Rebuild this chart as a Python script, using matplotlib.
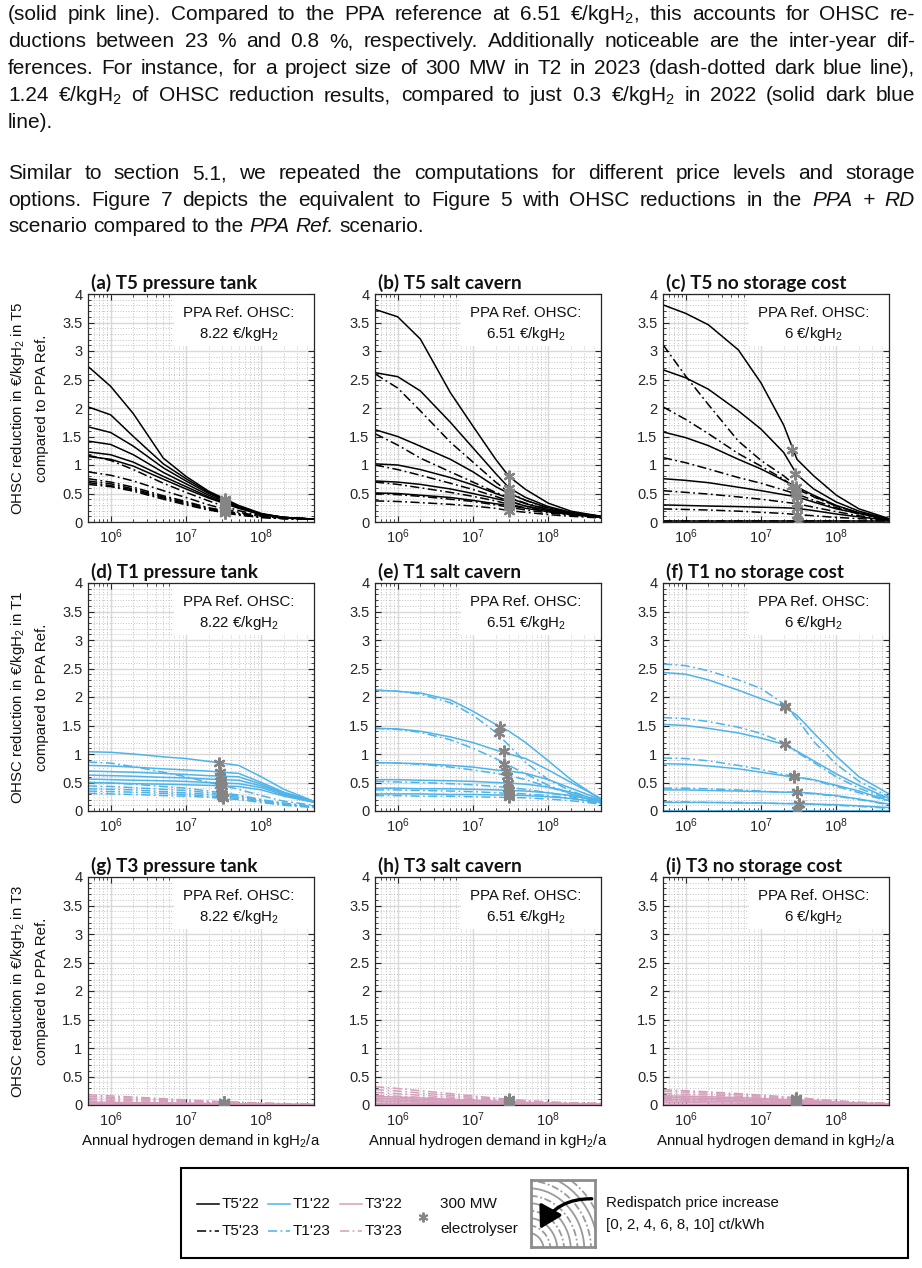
import numpy as np
import matplotlib
matplotlib.use("Agg")
import matplotlib.pyplot as plt
from matplotlib.ticker import LogLocator, MultipleLocator, FuncFormatter, NullFormatter
from matplotlib.patches import Rectangle, FancyArrowPatch
from matplotlib.lines import Line2D

plt.rcParams['font.family'] = ['Liberation Sans', 'DejaVu Sans']
plt.rcParams['mathtext.fontset'] = 'custom'
plt.rcParams['mathtext.rm'] = 'Liberation Sans'
plt.rcParams['mathtext.it'] = 'Liberation Sans:italic'
plt.rcParams['mathtext.bf'] = 'Liberation Sans:bold'

# ---------------- data ----------------
X_DEMAND = [5e5, 1e6, 2e6, 5e6, 1e7, 2e7, 3e7, 5e7, 1e8, 2e8, 5e8]
REDISPATCH_CT = [0, 2, 4, 6, 8, 10]

A_22 = [[2.73, 2.38, 1.90, 1.12, 0.80, 0.54, 0.43, 0.29, 0.15, 0.08, 0.05],
        [2.02, 1.88, 1.50, 1.02, 0.76, 0.52, 0.41, 0.28, 0.14, 0.08, 0.05],
        [1.67, 1.57, 1.33, 0.95, 0.72, 0.50, 0.40, 0.27, 0.14, 0.08, 0.05],
        [1.42, 1.36, 1.18, 0.87, 0.67, 0.47, 0.38, 0.26, 0.13, 0.08, 0.05],
        [1.23, 1.18, 1.05, 0.80, 0.62, 0.44, 0.36, 0.25, 0.13, 0.08, 0.05],
        [1.15, 1.10, 0.98, 0.75, 0.58, 0.42, 0.34, 0.24, 0.13, 0.08, 0.05]]
A_23 = [[1.17, 1.08, 0.92, 0.68, 0.52, 0.37, 0.29, 0.20, 0.11, 0.07, 0.05],
        [0.88, 0.82, 0.72, 0.55, 0.43, 0.30, 0.24, 0.17, 0.10, 0.07, 0.05],
        [0.76, 0.70, 0.61, 0.46, 0.36, 0.25, 0.21, 0.15, 0.09, 0.06, 0.05],
        [0.72, 0.67, 0.58, 0.44, 0.34, 0.24, 0.19, 0.14, 0.09, 0.06, 0.05],
        [0.69, 0.64, 0.56, 0.42, 0.32, 0.22, 0.18, 0.13, 0.08, 0.06, 0.05],
        [0.66, 0.62, 0.54, 0.40, 0.30, 0.21, 0.17, 0.12, 0.08, 0.06, 0.05]]
A_STAR_X = [3.3e7] * 12
A_STAR_Y = [0.41, 0.39, 0.37, 0.36, 0.34, 0.32, 0.27, 0.22, 0.19, 0.18, 0.16, 0.15]

B_22 = [[3.73, 3.60, 3.21, 2.27, 1.68, 1.10, 0.80, 0.57, 0.33, 0.19, 0.10],
        [2.62, 2.55, 2.30, 1.75, 1.30, 0.85, 0.60, 0.43, 0.27, 0.17, 0.10],
        [1.62, 1.50, 1.33, 1.10, 0.88, 0.62, 0.50, 0.38, 0.25, 0.16, 0.10],
        [1.02, 1.00, 0.92, 0.78, 0.65, 0.50, 0.42, 0.32, 0.22, 0.15, 0.09],
        [0.72, 0.70, 0.66, 0.58, 0.50, 0.41, 0.36, 0.28, 0.20, 0.14, 0.09],
        [0.51, 0.50, 0.47, 0.43, 0.38, 0.32, 0.29, 0.24, 0.18, 0.13, 0.08]]
B_23 = [[2.60, 2.35, 1.95, 1.40, 1.05, 0.70, 0.52, 0.38, 0.24, 0.15, 0.09],
        [1.55, 1.35, 1.12, 0.88, 0.70, 0.52, 0.43, 0.33, 0.22, 0.14, 0.09],
        [1.00, 0.92, 0.82, 0.68, 0.57, 0.45, 0.37, 0.28, 0.20, 0.14, 0.09],
        [0.70, 0.66, 0.60, 0.52, 0.45, 0.37, 0.31, 0.25, 0.18, 0.13, 0.08],
        [0.50, 0.48, 0.45, 0.40, 0.36, 0.30, 0.26, 0.21, 0.16, 0.12, 0.08],
        [0.37, 0.36, 0.34, 0.31, 0.28, 0.24, 0.20, 0.17, 0.13, 0.10, 0.07]]
B_STAR_X = [3.0e7] * 12
B_STAR_Y = [0.80, 0.60, 0.50, 0.42, 0.36, 0.29, 0.52, 0.43, 0.37, 0.31, 0.26, 0.20]

C_22 = [[3.81, 3.66, 3.46, 3.02, 2.44, 1.70, 1.10, 0.81, 0.47, 0.23, 0.06],
        [2.67, 2.53, 2.33, 1.95, 1.63, 1.22, 0.83, 0.58, 0.35, 0.19, 0.05],
        [1.58, 1.48, 1.34, 1.10, 0.93, 0.73, 0.61, 0.47, 0.29, 0.16, 0.05],
        [0.76, 0.73, 0.69, 0.61, 0.55, 0.48, 0.44, 0.35, 0.23, 0.15, 0.04],
        [0.30, 0.29, 0.28, 0.27, 0.26, 0.25, 0.24, 0.20, 0.14, 0.09, 0.03],
        [0.02, 0.02, 0.02, 0.02, 0.02, 0.02, 0.02, 0.02, 0.02, 0.02, 0.02]]
C_23 = [[3.11, 2.56, 2.06, 1.42, 1.08, 0.81, 0.62, 0.44, 0.28, 0.16, 0.05],
        [2.02, 1.80, 1.55, 1.20, 0.98, 0.75, 0.57, 0.45, 0.28, 0.16, 0.05],
        [1.13, 1.04, 0.93, 0.78, 0.68, 0.56, 0.49, 0.38, 0.25, 0.14, 0.05],
        [0.55, 0.52, 0.49, 0.44, 0.40, 0.35, 0.32, 0.26, 0.18, 0.11, 0.04],
        [0.23, 0.22, 0.21, 0.19, 0.17, 0.15, 0.13, 0.11, 0.08, 0.06, 0.03],
        [0.01, 0.01, 0.01, 0.01, 0.01, 0.01, 0.01, 0.01, 0.01, 0.01, 0.01]]
C_STAR_X = [2.6e7, 2.8e7, 2.9e7, 3.0e7, 3.0e7, 3.1e7, 2.6e7, 2.8e7, 2.9e7, 3.0e7, 3.0e7, 3.1e7]
C_STAR_Y = [1.26, 0.85, 0.62, 0.44, 0.24, 0.02, 0.64, 0.55, 0.49, 0.32, 0.13, 0.01]

D_22 = [[1.04, 1.03, 1.00, 0.95, 0.92, 0.87, 0.84, 0.80, 0.60, 0.38, 0.17],
        [0.80, 0.79, 0.77, 0.74, 0.72, 0.70, 0.68, 0.66, 0.50, 0.33, 0.17],
        [0.70, 0.69, 0.68, 0.66, 0.64, 0.62, 0.61, 0.60, 0.47, 0.31, 0.17],
        [0.63, 0.62, 0.61, 0.59, 0.58, 0.56, 0.55, 0.54, 0.44, 0.30, 0.16],
        [0.56, 0.55, 0.54, 0.53, 0.52, 0.50, 0.49, 0.48, 0.41, 0.28, 0.16],
        [0.50, 0.49, 0.48, 0.47, 0.46, 0.45, 0.44, 0.43, 0.37, 0.26, 0.15]]
D_23 = [[0.86, 0.84, 0.78, 0.68, 0.60, 0.50, 0.45, 0.38, 0.27, 0.17, 0.10],
        [0.50, 0.49, 0.47, 0.43, 0.40, 0.35, 0.32, 0.28, 0.20, 0.14, 0.08],
        [0.44, 0.43, 0.41, 0.38, 0.36, 0.32, 0.30, 0.26, 0.19, 0.13, 0.08],
        [0.39, 0.38, 0.37, 0.34, 0.32, 0.29, 0.27, 0.24, 0.18, 0.12, 0.07],
        [0.35, 0.34, 0.33, 0.31, 0.29, 0.26, 0.24, 0.22, 0.16, 0.11, 0.07],
        [0.31, 0.30, 0.29, 0.27, 0.26, 0.24, 0.22, 0.20, 0.15, 0.10, 0.06]]
D_STAR_X = [2.7e7, 2.8e7, 2.8e7, 2.9e7, 2.9e7, 3.0e7, 2.8e7, 2.9e7, 3.0e7, 3.0e7, 3.1e7, 3.1e7]
D_STAR_Y = [0.84, 0.68, 0.61, 0.55, 0.49, 0.44, 0.46, 0.32, 0.30, 0.27, 0.24, 0.22]

E_22 = [[2.12, 2.10, 2.07, 1.95, 1.75, 1.52, 1.40, 1.20, 0.88, 0.55, 0.20],
        [1.45, 1.44, 1.40, 1.30, 1.20, 1.07, 1.00, 0.92, 0.72, 0.50, 0.22],
        [0.85, 0.84, 0.83, 0.80, 0.77, 0.72, 0.70, 0.66, 0.55, 0.40, 0.20],
        [0.55, 0.55, 0.54, 0.53, 0.52, 0.50, 0.49, 0.47, 0.42, 0.33, 0.18],
        [0.40, 0.40, 0.39, 0.39, 0.38, 0.37, 0.36, 0.35, 0.32, 0.27, 0.17],
        [0.30, 0.30, 0.30, 0.29, 0.29, 0.28, 0.28, 0.27, 0.25, 0.22, 0.15]]
E_23 = [[2.12, 2.10, 2.05, 1.90, 1.68, 1.38, 1.15, 0.85, 0.55, 0.35, 0.17],
        [1.45, 1.43, 1.38, 1.25, 1.10, 0.92, 0.80, 0.65, 0.45, 0.30, 0.16],
        [0.85, 0.84, 0.82, 0.77, 0.72, 0.66, 0.62, 0.55, 0.42, 0.30, 0.15],
        [0.52, 0.51, 0.50, 0.48, 0.46, 0.43, 0.41, 0.38, 0.32, 0.25, 0.14],
        [0.37, 0.37, 0.36, 0.35, 0.34, 0.32, 0.31, 0.30, 0.27, 0.22, 0.13],
        [0.27, 0.27, 0.26, 0.26, 0.25, 0.24, 0.24, 0.23, 0.21, 0.18, 0.12]]
E_STAR_X = [2.3e7, 2.6e7, 2.7e7, 2.9e7, 3.0e7, 3.0e7, 2.2e7, 2.6e7, 2.8e7, 2.9e7, 3.0e7, 3.0e7]
E_STAR_Y = [1.48, 1.05, 0.70, 0.49, 0.36, 0.28, 1.37, 0.83, 0.62, 0.41, 0.31, 0.24]

F_22 = [[2.43, 2.40, 2.30, 2.12, 1.97, 1.83, 1.68, 1.37, 0.96, 0.60, 0.30],
        [1.52, 1.50, 1.45, 1.37, 1.28, 1.17, 1.05, 0.88, 0.65, 0.45, 0.22],
        [0.83, 0.82, 0.79, 0.74, 0.68, 0.62, 0.59, 0.55, 0.45, 0.35, 0.18],
        [0.37, 0.37, 0.36, 0.35, 0.34, 0.33, 0.33, 0.31, 0.27, 0.21, 0.12],
        [0.15, 0.15, 0.15, 0.14, 0.14, 0.13, 0.13, 0.12, 0.11, 0.09, 0.06],
        [0.005, 0.005, 0.005, 0.005, 0.005, 0.005, 0.005, 0.005, 0.005, 0.005, 0.005]]
F_23 = [[2.58, 2.55, 2.46, 2.30, 2.15, 1.88, 1.62, 1.22, 0.82, 0.52, 0.25],
        [1.64, 1.62, 1.57, 1.47, 1.36, 1.20, 1.03, 0.85, 0.60, 0.40, 0.20],
        [0.93, 0.92, 0.88, 0.80, 0.73, 0.64, 0.60, 0.54, 0.43, 0.32, 0.17],
        [0.40, 0.40, 0.39, 0.37, 0.35, 0.33, 0.33, 0.30, 0.26, 0.20, 0.11],
        [0.16, 0.16, 0.15, 0.15, 0.14, 0.13, 0.13, 0.12, 0.10, 0.08, 0.05],
        [0.005, 0.005, 0.005, 0.005, 0.005, 0.005, 0.005, 0.005, 0.005, 0.005, 0.005]]
F_STAR_X = [2.1e7, 2.1e7, 2.7e7, 3.0e7, 3.2e7, 3.0e7, 2.1e7, 2.1e7, 2.7e7, 3.0e7, 3.2e7, 3.0e7]
F_STAR_Y = [1.83, 1.17, 0.60, 0.33, 0.13, 0.01, 1.85, 1.18, 0.61, 0.33, 0.13, 0.01]

G_22 = [[0.050, 0.047, 0.043, 0.037, 0.032, 0.027, 0.025, 0.021, 0.016, 0.012, 0.008],
        [0.040, 0.037, 0.034, 0.030, 0.026, 0.022, 0.020, 0.017, 0.013, 0.010, 0.007],
        [0.030, 0.028, 0.026, 0.023, 0.020, 0.017, 0.015, 0.013, 0.010, 0.008, 0.006],
        [0.020, 0.019, 0.018, 0.016, 0.014, 0.012, 0.011, 0.010, 0.008, 0.006, 0.005],
        [0.010, 0.010, 0.009, 0.008, 0.007, 0.006, 0.006, 0.005, 0.004, 0.004, 0.003],
        [0.002, 0.002, 0.002, 0.002, 0.002, 0.002, 0.002, 0.002, 0.002, 0.002, 0.002]]
G_23 = [[0.18, 0.16, 0.14, 0.11, 0.09, 0.07, 0.06, 0.05, 0.035, 0.025, 0.015],
        [0.15, 0.135, 0.12, 0.095, 0.08, 0.062, 0.053, 0.045, 0.032, 0.022, 0.013],
        [0.12, 0.11, 0.097, 0.08, 0.066, 0.052, 0.045, 0.038, 0.027, 0.019, 0.011],
        [0.09, 0.082, 0.074, 0.061, 0.051, 0.041, 0.036, 0.030, 0.022, 0.015, 0.009],
        [0.06, 0.055, 0.050, 0.042, 0.035, 0.028, 0.025, 0.021, 0.015, 0.011, 0.007],
        [0.03, 0.028, 0.025, 0.021, 0.018, 0.015, 0.013, 0.011, 0.008, 0.006, 0.004]]
G_STAR_X = [3.2e7] * 12
G_STAR_Y = [0.025, 0.020, 0.015, 0.011, 0.006, 0.002, 0.060, 0.053, 0.045, 0.036, 0.025, 0.013]

H_22 = [[0.15, 0.14, 0.125, 0.10, 0.085, 0.068, 0.060, 0.048, 0.034, 0.025, 0.018],
        [0.12, 0.113, 0.10, 0.082, 0.07, 0.056, 0.050, 0.040, 0.029, 0.021, 0.015],
        [0.09, 0.085, 0.076, 0.063, 0.054, 0.044, 0.040, 0.032, 0.023, 0.017, 0.012],
        [0.06, 0.057, 0.051, 0.043, 0.037, 0.030, 0.027, 0.022, 0.016, 0.012, 0.009],
        [0.03, 0.029, 0.026, 0.022, 0.019, 0.016, 0.014, 0.012, 0.009, 0.007, 0.005],
        [0.005, 0.005, 0.005, 0.004, 0.004, 0.004, 0.004, 0.003, 0.003, 0.003, 0.002]]
H_23 = [[0.32, 0.29, 0.25, 0.20, 0.16, 0.12, 0.10, 0.08, 0.055, 0.04, 0.03],
        [0.27, 0.245, 0.21, 0.17, 0.135, 0.10, 0.085, 0.07, 0.048, 0.035, 0.025],
        [0.22, 0.20, 0.17, 0.14, 0.11, 0.085, 0.072, 0.06, 0.042, 0.03, 0.02],
        [0.17, 0.155, 0.135, 0.11, 0.088, 0.068, 0.058, 0.048, 0.034, 0.025, 0.017],
        [0.12, 0.11, 0.096, 0.078, 0.063, 0.049, 0.042, 0.035, 0.025, 0.019, 0.013],
        [0.07, 0.064, 0.056, 0.046, 0.037, 0.029, 0.025, 0.021, 0.015, 0.012, 0.008]]
H_STAR_X = [3.0e7] * 12
H_STAR_Y = [0.06, 0.05, 0.04, 0.027, 0.014, 0.004, 0.10, 0.085, 0.072, 0.058, 0.042, 0.025]

I_22 = [[0.16, 0.155, 0.145, 0.13, 0.115, 0.098, 0.088, 0.074, 0.054, 0.036, 0.02],
        [0.13, 0.126, 0.118, 0.106, 0.094, 0.08, 0.072, 0.061, 0.045, 0.03, 0.017],
        [0.10, 0.097, 0.091, 0.082, 0.073, 0.062, 0.056, 0.048, 0.035, 0.024, 0.014],
        [0.07, 0.068, 0.064, 0.058, 0.051, 0.044, 0.040, 0.034, 0.025, 0.017, 0.01],
        [0.04, 0.039, 0.037, 0.033, 0.029, 0.025, 0.023, 0.02, 0.015, 0.01, 0.006],
        [0.01, 0.01, 0.009, 0.008, 0.007, 0.006, 0.006, 0.005, 0.004, 0.003, 0.002]]
I_23 = [[0.27, 0.25, 0.23, 0.20, 0.175, 0.145, 0.128, 0.105, 0.075, 0.05, 0.03],
        [0.24, 0.225, 0.205, 0.18, 0.155, 0.13, 0.115, 0.095, 0.068, 0.045, 0.027],
        [0.20, 0.19, 0.175, 0.155, 0.135, 0.113, 0.10, 0.083, 0.06, 0.04, 0.024],
        [0.16, 0.152, 0.14, 0.125, 0.11, 0.093, 0.083, 0.07, 0.05, 0.034, 0.02],
        [0.12, 0.114, 0.106, 0.095, 0.085, 0.072, 0.065, 0.055, 0.04, 0.028, 0.017],
        [0.08, 0.076, 0.071, 0.064, 0.057, 0.049, 0.044, 0.038, 0.028, 0.02, 0.012]]
I_STAR_X = [2.9e7] * 12
I_STAR_Y = [0.088, 0.072, 0.056, 0.04, 0.023, 0.006, 0.128, 0.115, 0.10, 0.083, 0.065, 0.044]

PANEL_LETTERS = ['a', 'b', 'c', 'd', 'e', 'f', 'g', 'h', 'i']
ROW_TARIFFS = ['T5', 'T1', 'T3']
STORAGE_OPTIONS = ['pressure tank', 'salt cavern', 'no storage cost']
PPA_REF_OHSC = ['8.22', '6.51', '6']
ROW_COLORS = ['#000000', '#4DB4EA', '#D59FBC']

PANEL_DATA = [(A_22, A_23, A_STAR_X, A_STAR_Y), (B_22, B_23, B_STAR_X, B_STAR_Y),
              (C_22, C_23, C_STAR_X, C_STAR_Y), (D_22, D_23, D_STAR_X, D_STAR_Y),
              (E_22, E_23, E_STAR_X, E_STAR_Y), (F_22, F_23, F_STAR_X, F_STAR_Y),
              (G_22, G_23, G_STAR_X, G_STAR_Y), (H_22, H_23, H_STAR_X, H_STAR_Y),
              (I_22, I_23, I_STAR_X, I_STAR_Y)]

BODY_LINES = [
    ("(solid pink line). Compared to the PPA reference at 6.51 €/kgH$_2$, this accounts for OHSC re-", True),
    ("ductions between 23 % and 0.8 %, respectively. Additionally noticeable are the inter-year dif-", True),
    ("ferences. For instance, for a project size of 300 MW in T2 in 2023 (dash-dotted dark blue line),", True),
    ("1.24 €/kgH$_2$ of OHSC reduction results, compared to just 0.3 €/kgH$_2$ in 2022 (solid dark blue", True),
    ("line).", False),
    ("Similar to section 5.1, we repeated the computations for different price levels and storage", True),
    ("options. Figure 7 depicts the equivalent to Figure 5 with OHSC reductions in the *PPA* *+* *RD*", True),
    ("scenario compared to the *PPA* *Ref.* scenario.", False),
]
BODY_BASELINES = [20, 47, 74, 101, 128, 179, 206, 232]

# ---------------- figure ----------------
W, H = 922, 1268
DPI = 100
fig = plt.figure(figsize=(W / DPI, H / DPI), dpi=DPI)
fig.patch.set_facecolor('white')
renderer = fig.canvas.get_renderer()


def fx(px):
    return px / W


def fy(py):
    return 1 - py / H


# ---- body text, justified ----
BODY_FS = 15.0
LEFT_PX, RIGHT_PX = 8, 915
for (line, justify), base in zip(BODY_LINES, BODY_BASELINES):
    objs = []
    for word in line.split(' '):
        ital = word.startswith('*') and word.endswith('*') and len(word) > 1
        w = word.strip('*') if ital else word
        t = fig.text(0, fy(base), w, fontsize=BODY_FS, va='baseline', ha='left',
                     style='italic' if ital else 'normal', color='#111111')
        objs.append(t)
    widths = [t.get_window_extent(renderer).width for t in objs]
    if justify and len(objs) > 1:
        gap = (RIGHT_PX - LEFT_PX - sum(widths)) / (len(objs) - 1)
    else:
        gap = 0.278 * BODY_FS * DPI / 72
    x = LEFT_PX
    for t, w in zip(objs, widths):
        t.set_x(fx(x))
        x += w + gap

# ---- panels ----
AX_LEFT_PX = [88, 375, 663]
AX_TOP_PX = [294, 583, 877]
AX_W_PX = 226
AX_H_PX = 228
DASHDOT = (0, (6, 2.2, 1.2, 2.2))

for idx, (s22, s23, sx, sy) in enumerate(PANEL_DATA):
    r, c = divmod(idx, 3)
    l, t = AX_LEFT_PX[c], AX_TOP_PX[r]
    ax = fig.add_axes([fx(l), fy(t + AX_H_PX), AX_W_PX / W, AX_H_PX / H])
    ax.set_xscale('log')
    ax.set_xlim(5e5, 5e8)
    ax.set_ylim(0, 4)
    ax.xaxis.set_major_locator(LogLocator(base=10, numticks=10))
    ax.xaxis.set_minor_locator(LogLocator(base=10, subs=np.arange(2, 10), numticks=20))
    ax.xaxis.set_minor_formatter(NullFormatter())
    ax.yaxis.set_major_locator(MultipleLocator(0.5))
    ax.yaxis.set_minor_locator(MultipleLocator(0.1))
    ax.yaxis.set_major_formatter(FuncFormatter(lambda v, p: f'{v:g}'))
    ax.set_axisbelow(True)
    ax.grid(which='major', color='#d9d9d9', lw=1.0, ls='-')
    ax.grid(which='minor', color='#b0b0b0', lw=0.6, ls=(0, (1, 2.2)))
    ax.tick_params(which='both', direction='in', top=True, right=True,
                   colors='#262626', labelsize=10.5, labelcolor='#262626')
    ax.tick_params(which='major', length=4, width=0.8, pad=4)
    ax.tick_params(which='minor', length=2, width=0.6)
    for sp in ax.spines.values():
        sp.set_color('#262626')
        sp.set_linewidth(0.9)

    ax.add_patch(Rectangle((0.38, 0.77), 0.62, 0.23, transform=ax.transAxes,
                           facecolor='white', edgecolor='none', zorder=1))
    ax.text(0.668, 0.915, 'PPA Ref. OHSC:', transform=ax.transAxes, ha='center',
            va='center', fontsize=10.8, color='#111111', zorder=3)
    ax.text(0.668, 0.825, f'{PPA_REF_OHSC[c]} €/kgH$_2$', transform=ax.transAxes,
            ha='center', va='center', fontsize=10.8, color='#111111', zorder=3)

    col = ROW_COLORS[r]
    for curve in s22:
        ax.plot(X_DEMAND, curve, color=col, lw=1.1, ls='-', zorder=2)
    for curve in s23:
        ax.plot(X_DEMAND, curve, color=col, lw=1.1, ls=DASHDOT, zorder=2)
    ax.plot(sx, sy, ls='none', marker=(6, 2, 0), ms=8.5, mec='#858585', mfc='none',
            mew=1.6, zorder=4)

    ax.text(0.012, 1.008, f'({PANEL_LETTERS[idx]}) {ROW_TARIFFS[r]} {STORAGE_OPTIONS[c]}',
            transform=ax.transAxes, ha='left', va='bottom', fontsize=13.6,
            fontweight='bold', family='Lato', color='#111111')

    if c == 0:
        yc = t + AX_H_PX / 2
        fig.text(fx(18), fy(yc), f'OHSC reduction in €/kgH$_2$ in {ROW_TARIFFS[r]}',
                 rotation=90, ha='center', va='center', fontsize=10.8, color='#111111')
        fig.text(fx(42), fy(yc), 'compared to PPA Ref.', rotation=90, ha='center',
                 va='center', fontsize=10.8, color='#111111')
    if r == 2:
        fig.text(fx(l + AX_W_PX / 2), fy(1141), 'Annual hydrogen demand in kgH$_2$/a',
                 ha='center', va='center', fontsize=10.8, color='#111111')

# ---- legend box ----
fig.add_artist(Rectangle((fx(181), fy(1258)), (908 - 181) / W, (1258 - 1168) / H,
                         transform=fig.transFigure, fill=False, edgecolor='black', lw=1.5))
LEG_LABELS_22 = ["T5'22", "T1'22", "T3'22"]
LEG_LABELS_23 = ["T5'23", "T1'23", "T3'23"]
LEG_X = [197, 268, 340]
for i in range(3):
    for lab, yy, ls in ((LEG_LABELS_22[i], 1204, '-'), (LEG_LABELS_23[i], 1231, DASHDOT)):
        fig.add_artist(Line2D([fx(LEG_X[i]), fx(LEG_X[i] + 22)], [fy(yy), fy(yy)],
                              color=ROW_COLORS[i], lw=1.1, ls=ls, transform=fig.transFigure))
        fig.text(fx(LEG_X[i] + 25), fy(yy), lab, ha='left', va='center', fontsize=11,
                 color='#111111')
fig.add_artist(Line2D([fx(423)], [fy(1217)], ls='none', marker=(6, 2, 0), ms=7,
                      mec='#858585', mew=1.4, transform=fig.transFigure))
fig.text(fx(440), fy(1204), '300 MW', ha='left', va='center', fontsize=11, color='#111111')
fig.text(fx(440), fy(1229), 'electrolyser', ha='left', va='center', fontsize=11,
         color='#111111')

# icon
axi = fig.add_axes([fx(531), fy(1247), 64 / W, 67 / H])
axi.set_xlim(0, 1)
axi.set_ylim(0, 1)
axi.set_xticks([])
axi.set_yticks([])
for sp in axi.spines.values():
    sp.set_color('#8c8c8c')
    sp.set_linewidth(2)
theta = np.linspace(0, np.pi / 2, 60)
for k, rad in enumerate(np.linspace(0.25, 1.2, 10)):
    axi.plot(rad * np.cos(theta) - 0.05, rad * 1.05 * np.sin(theta) - 0.05,
             color='#9a9a9a', lw=1.3, ls='-' if k % 2 == 0 else (0, (4, 1.5, 1, 1.5)),
             zorder=1)
axi.add_patch(FancyArrowPatch((0.95, 0.72), (0.14, 0.27), connectionstyle='arc3,rad=0.3',
                              arrowstyle='-|>,head_length=0.6,head_width=0.35',
                              mutation_scale=22, lw=2.4, color='black',
                              shrinkA=0, shrinkB=0, zorder=5))

fig.text(fx(606), fy(1203), 'Redispatch price increase', ha='left', va='center',
         fontsize=10.8, color='#111111')
fig.text(fx(606), fy(1225), '[' + ', '.join(str(v) for v in REDISPATCH_CT) + '] ct/kWh',
         ha='left', va='center', fontsize=10.8, color='#111111')

fig.savefig('out.png', dpi=DPI, facecolor='white')
